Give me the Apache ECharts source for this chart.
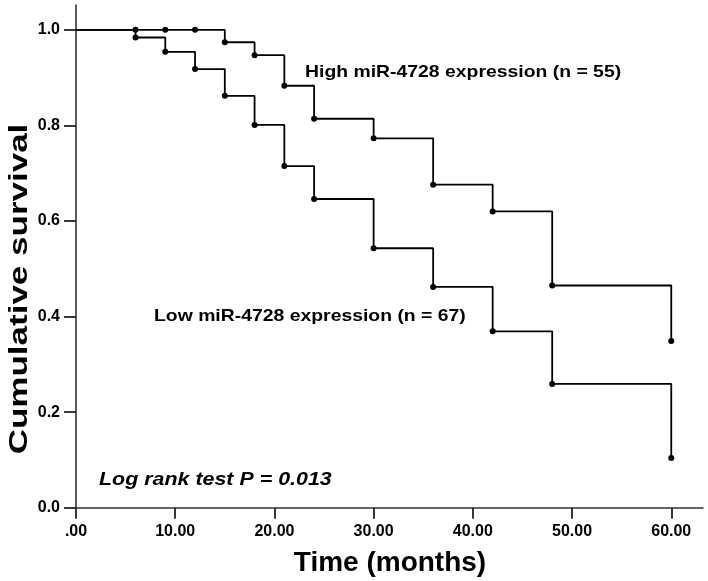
<!DOCTYPE html>
<html>
<head>
<meta charset="utf-8">
<script src="https://cdn.jsdelivr.net/npm/echarts@6/dist/echarts.min.js"></script>
<style>
html,body{margin:0;padding:0;background:#fff;}
#chart{width:708px;height:581px;}
</style>
</head>
<body>
<div id="chart"></div>
<script>
const times = [0, 6, 9, 12, 15, 18, 21, 24, 30, 36, 42, 48, 60];
const highSurvival = [1, 1, 1, 1, 0.974, 0.947, 0.883, 0.814, 0.773, 0.676, 0.620, 0.465, 0.349];
const lowSurvival = [1, 0.984, 0.954, 0.918, 0.862, 0.801, 0.715, 0.646, 0.543, 0.462, 0.369, 0.259, 0.104];
const xTicks = [0, 10, 20, 30, 40, 50, 60];
const xTickLabels = ['.00', '10.00', '20.00', '30.00', '40.00', '50.00', '60.00'];
const yTicks = [0, 0.2, 0.4, 0.6, 0.8, 1.0];
const yTickLabels = ['0.0', '0.2', '0.4', '0.6', '0.8', '1.0'];

const highLabel = 'High miR-4728 expression (n = 55)';
const lowLabel = 'Low miR-4728 expression (n = 67)';
const testLabel = 'Log rank test P = 0.013';

function buildData(surv) {
  return times.map((t, i) => i === 0 ? { value: [t, surv[i]], symbol: 'none' } : { value: [t, surv[i]] });
}

const FONT = '"Liberation Sans", Arial, sans-serif';
const chart = echarts.init(document.getElementById('chart'), null, { renderer: 'canvas' });

const lineSeries = (name, surv) => ({
  name: name,
  type: 'line',
  step: 'end',
  data: buildData(surv),
  showSymbol: true,
  symbol: 'circle',
  symbolSize: 6,
  itemStyle: { color: '#000' },
  lineStyle: { color: '#000', width: 1.8 },
  silent: true,
  animation: false
});

chart.setOption({
  animation: false,
  backgroundColor: '#fff',
  grid: { left: 76, right: 5, top: 5, bottom: 73.3, containLabel: false },
  xAxis: {
    type: 'value',
    min: 0,
    max: 63.2,
    axisLine: { show: true, lineStyle: { color: '#333', width: 1.6 } },
    axisTick: { show: true, length: 11, inside: false, customValues: xTicks, lineStyle: { color: '#222', width: 1.8 } },
    axisLabel: {
      customValues: xTicks,
      margin: 16,
      fontFamily: FONT,
      fontSize: 16,
      fontWeight: 'bold',
      color: '#000',
      formatter: v => xTickLabels[xTicks.indexOf(Math.round(v))] || ''
    },
    splitLine: { show: false }
  },
  yAxis: {
    type: 'value',
    min: 0,
    max: 1.052,
    axisLine: { show: true, lineStyle: { color: '#333', width: 1.6 } },
    axisTick: { show: true, length: 12, inside: false, customValues: yTicks, lineStyle: { color: '#222', width: 1.8 } },
    axisLabel: {
      customValues: yTicks,
      margin: 16,
      fontFamily: FONT,
      fontSize: 16,
      fontWeight: 'bold',
      color: '#000',
      formatter: v => yTickLabels[yTicks.findIndex(t => Math.abs(t - v) < 1e-6)] || ''
    },
    splitLine: { show: false }
  },
  series: [
    lineSeries('High', highSurvival),
    lineSeries('Low', lowSurvival)
  ],
  graphic: [
    {
      type: 'text', x: 305, y: 72, scaleX: 1.14,
      style: { text: highLabel, font: 'bold 17px ' + FONT, fill: '#000', textAlign: 'left', textVerticalAlign: 'middle' }
    },
    {
      type: 'text', x: 154, y: 316, scaleX: 1.14,
      style: { text: lowLabel, font: 'bold 17px ' + FONT, fill: '#000', textAlign: 'left', textVerticalAlign: 'middle' }
    },
    {
      type: 'text', x: 99, y: 480, scaleX: 1.19,
      style: { text: testLabel, font: 'italic bold 18px ' + FONT, fill: '#000', textAlign: 'left', textVerticalAlign: 'middle' }
    },
    {
      type: 'text', x: 390, y: 563,
      style: { text: 'Time (months)', font: 'bold 28px ' + FONT, fill: '#000', textAlign: 'center', textVerticalAlign: 'middle' }
    },
    {
      type: 'text', x: 20, y: 289, rotation: Math.PI / 2, scaleX: 1.4,
      style: { text: 'Cumulative survival', font: 'bold 25px ' + FONT, fill: '#000', textAlign: 'center', textVerticalAlign: 'middle' }
    }
  ]
});
</script>
</body>
</html>
